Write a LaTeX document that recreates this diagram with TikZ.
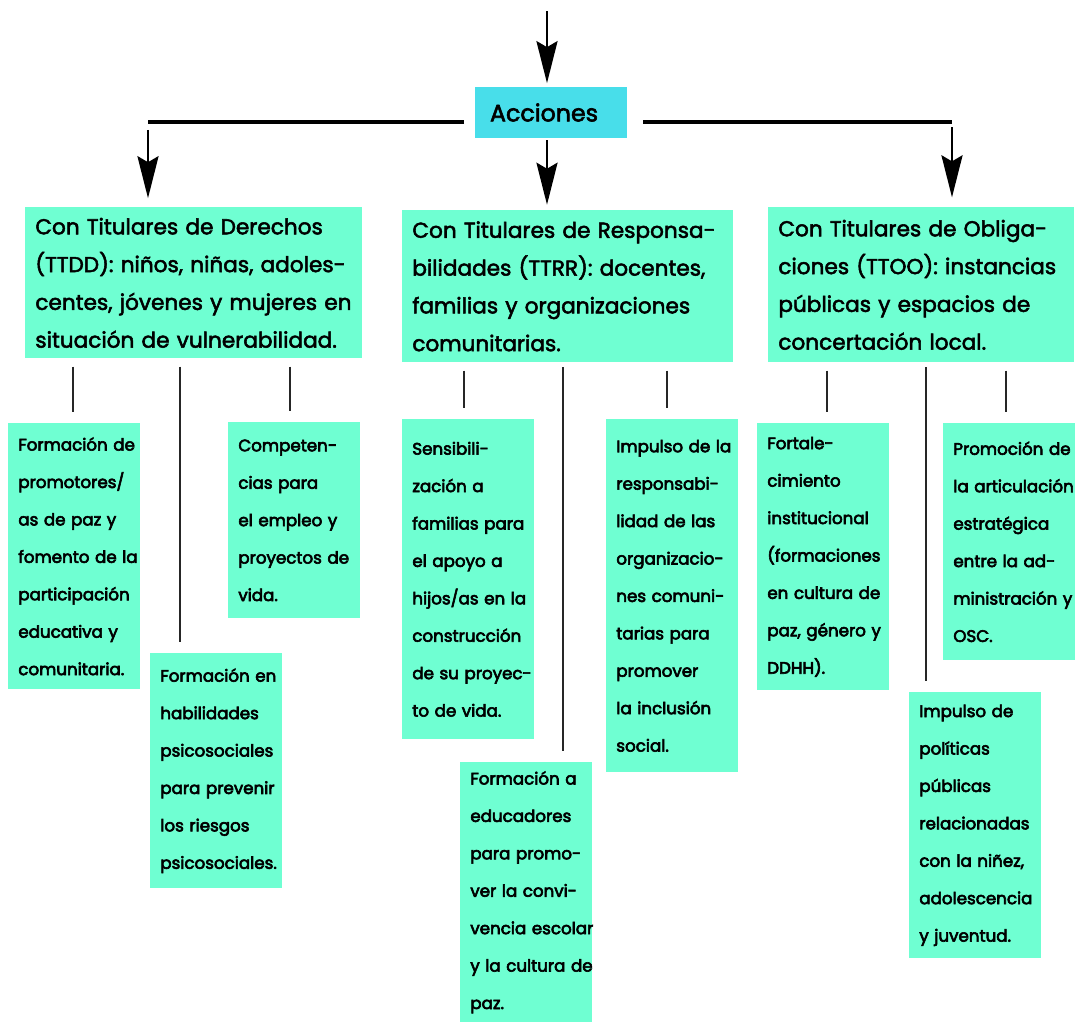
\documentclass[tikz,border=0pt]{standalone}
\usepackage{fontspec}
\setmainfont{Poppins}
\newfontfamily\medio{Poppins}[FakeBold=2.4]
\newfontfamily\grueso{Poppins}[FakeBold=3.6]
\usetikzlibrary{arrows.meta}

\definecolor{menta}{HTML}{6FFFD2}
\definecolor{celeste}{HTML}{48DEEA}

\tikzset{
	caja/.style = {fill = menta, anchor = north west, align = left, inner xsep = 0.2cm, inner ysep = 0pt,
		execute at begin node = {\rightskip = 0pt plus 1fil minus 0.6cm\linepenalty = 1000\hyphenpenalty = 10000}},
	titular/.style = {caja, font = \medio\fontsize{12.3}{21.5}\selectfont, text width = #1},
	accion/.style = {caja, font = \grueso\fontsize{9.5}{21.3}\selectfont, text width = 2.24cm, minimum height = #1},
	flecha/.style = {-{Stealth[length = 0.84cm, width = 0.42cm, inset = 0.12cm]}, line width = 1.6pt},
	barra/.style = {line width = 2.3pt},
	tallo/.style = {line width = 1.5pt, draw = black!85, shorten <= 4.5pt, shorten >= 6.5pt}
}

\begin{document}
\begin{tikzpicture}[x = 0.02cm, y = -0.02cm]

		\useasboundingbox (0, 0) rectangle (1076, 1022);

		% acciones
		\node [fill = celeste, align = left, text width = 2.44cm, inner xsep = 0.3cm, minimum height = 1.02cm,
			font = \medio\fontsize{13.5}{15}\selectfont] (acc) at (551, 112.5) {Acciones};

		% titulares
		\node [titular = 6.34cm, minimum height = 3.02cm] (hl) at (25, 207) {Con Titulares de Derechos\\(TTDD): niños, niñas, adoles-\\centes, jóvenes y mujeres en\\situación de vulnerabilidad.};
		\node [titular = 6.22cm, minimum height = 3.04cm] (hm) at (402, 210) {Con Titulares de Responsa-\\bilidades (TTRR): docentes,\\familias y organizaciones\\comunitarias.};
		\node [titular = 5.72cm, minimum height = 3.1cm] (hr) at (768, 207) {Con Titulares de Obliga-\\ciones (TTOO): instancias\\públicas y espacios de\\concertación local.};

		% acciones por titular
		\node [accion = 5.32cm] (l1) at (8, 423) {Formación de\\promotores/\\as de paz y\\fomento de la\\participación\\educativa y\\comunitaria.};
		\node [accion = 4.70cm] (l2) at (150, 653) {Formación en\\habilidades\\psicosociales\\para prevenir\\los riesgos\\psicosociales.};
		\node [accion = 3.92cm] (l3) at (228, 422) {Competen-\\cias para\\el empleo y\\proyectos de\\vida.};

		\node [accion = 6.40cm] (m1) at (402, 419) {Sensibili-\\zación a\\familias para\\el apoyo a\\hijos/as en la\\construcción\\de su proyec-\\to de vida.};
		\node [accion = 5.20cm] (m2) at (460, 762) {Formación a\\educadores\\para promo-\\ver la convi-\\vencia escolar\\y la cultura de\\paz.};
		\node [accion = 7.06cm] (m3) at (606, 419) {Impulso de la\\responsabi-\\lidad de las\\organizacio-\\nes comuni-\\tarias para\\promover\\la inclusión\\social.};

		\node [accion = 5.34cm] (r1) at (757, 423) {Fortale-\\cimiento\\institucional\\(formaciones\\en cultura de\\paz, género y\\DDHH).};
		\node [accion = 5.32cm] (r2) at (909, 692) {Impulso de\\políticas\\públicas\\relacionadas\\con la niñez,\\adolescencia\\y juventud.};
		\node [accion = 4.74cm] (r3) at (943, 423) {Promoción de\\la articulación\\estratégica\\entre la ad-\\ministración y\\OSC.};

		% flechas
		\coordinate (top) at (547, 11);
		\coordinate (jm) at (547, 0);
		\coordinate (jl) at (148, 122);
		\coordinate (jr) at (952, 122);

		\draw[flecha, shorten >= 2pt] (top) -- (acc.north -| top);
		\draw[flecha, shorten <= 1pt, shorten >= 3pt] (acc.south -| jm) -- (hm.north -| jm);

		\draw[barra, shorten <= 6pt] (acc.west |- jl) -- (jl);
		\draw[barra, shorten <= 9pt] (acc.east |- jr) -- (jr);
		\draw[flecha, shorten <= 4.5pt, shorten >= 5pt] (jl) -- (jl |- hl.north);
		\draw[flecha, shorten <= 3pt, shorten >= 5.5pt] (jr) -- (jr |- hr.north);

		% tallos
		\coordinate (s1) at (73, 0);
		\coordinate (s2) at (180, 0);
		\coordinate (s3) at (290, 0);
		\coordinate (s4) at (464, 0);
		\coordinate (s5) at (563, 0);
		\coordinate (s6) at (667, 0);
		\coordinate (s7) at (827, 0);
		\coordinate (s8) at (926, 0);
		\coordinate (s9) at (1006, 0);

		\draw[tallo] (hl.south -| s1) -- (l1.north -| s1);
		\draw[tallo] (hl.south -| s2) -- (l2.north -| s2);
		\draw[tallo] (hl.south -| s3) -- (l3.north -| s3);
		\draw[tallo, shorten <= 4.5pt] (hm.south -| s4) -- (m1.north -| s4);
		\draw[tallo, shorten <= 2.5pt] (hm.south -| s5) -- (m2.north -| s5);
		\draw[tallo, shorten <= 4.5pt] (hm.south -| s6) -- (m3.north -| s6);
		\draw[tallo] (hr.south -| s7) -- (r1.north -| s7);
		\draw[tallo, shorten <= 2.5pt] (hr.south -| s8) -- (r2.north -| s8);
		\draw[tallo] (hr.south -| s9) -- (r3.north -| s9);

	\end{tikzpicture}
\end{document}
